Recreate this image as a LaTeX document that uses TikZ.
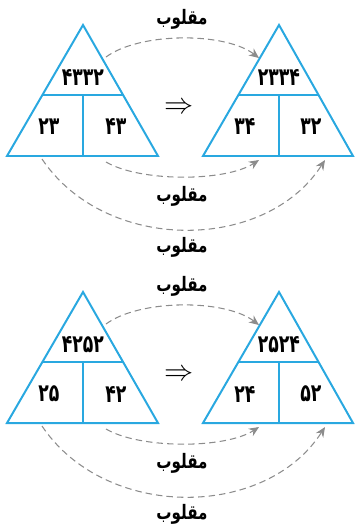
\documentclass[tikz,border=0pt]{standalone}
\usepackage{fontspec}
\newfontfamily\arabicfont[Script=Arabic]{DejaVu Sans}
\newfontfamily\numfont[Script=Arabic,FakeStretch=0.7]{DejaVu Sans}
\newfontfamily\wordfont[Script=Arabic,FakeStretch=0.76]{DejaVu Sans}
\TeXXeTstate=1
\usetikzlibrary{arrows.meta,positioning,calc}
\definecolor{triblue}{RGB}{41,168,224}
\definecolor{arrgray}{RGB}{140,140,140}

\begin{document}
\begin{tikzpicture}[x=0.03cm, y=-0.03cm,
  tri/.style={draw=triblue, line width=1.7pt},
  num/.style={font=\numfont\bfseries\fontsize{21}{21}\selectfont, inner sep=0pt},
  word/.style={font=\wordfont\bfseries\fontsize{17}{17}\selectfont, inner sep=0pt},
  flip/.style={draw=arrgray, line width=0.9pt, dash pattern=on 5.5pt off 3.5pt,
               -{Stealth[length=3mm,width=2.6mm]}}
]
\useasboundingbox (0,0) rectangle (355,527);

\foreach \dy/\ta/\la/\ra/\tb/\lb/\rb/\k in
  {0/۴۳۳۲/۲۳/۴۳/۲۳۳۴/۳۴/۳۲/a, 267/۴۲۵۲/۲۵/۴۲/۲۵۲۴/۲۴/۵۲/b}{
\begin{scope}[shift={(0,\dy)}]
  % left triangle
  \draw[tri] (83,25) -- (158,156) -- (7,156) -- cycle;
  \draw[tri] (42,95) -- (123,95) (83,95) -- (83,156);
  \node[num] (top1\k) at (83,78) {\ta};
  \node[num] (lft1\k) at (49,127) {\la};
  \node[num] (rgt1\k) at (116,127) {\ra};

  % right triangle
  \draw[tri] (279,25) -- (353,156) -- (203,156) -- cycle;
  \draw[tri] (238,95) -- (319,95) (279,95) -- (279,156);
  \node[num] (top2\k) at (279,78) {\tb};
  \node[num] (lft2\k) at (245,127) {\lb};
  \node[num] (rgt2\k) at (311,127) {\rb};

  \node[font=\fontsize{24}{24}\selectfont] (imp\k) at (179,108) {$\Rightarrow$};

  % arrows
  \coordinate (s1\k) at (106,57);  \coordinate (e1\k) at (259,58);
  \coordinate (s2\k) at (106,162); \coordinate (e2\k) at (259,160);
  \coordinate (s3\k) at (42,159);  \coordinate (e3\k) at (325,160);
  \draw[flip] (s1\k) .. controls +(34,-25) and +(-34,-26) .. (e1\k);
  \draw[flip] (s2\k) .. controls +(34,20) and +(-34,22) .. (e2\k);
  \draw[flip] (s3\k) .. controls +(63,94) and +(-60,93) .. (e3\k);

  % labels
  \node[word] (w1\k) at (182,19)  {\beginR مقلوب\endR};
  \node[word] (w2\k) at (182,196) {\beginR مقلوب\endR};
  \node[word] (w3\k) at (182,247) {\beginR مقلوب\endR};
\end{scope}
}
\end{tikzpicture}
\end{document}
